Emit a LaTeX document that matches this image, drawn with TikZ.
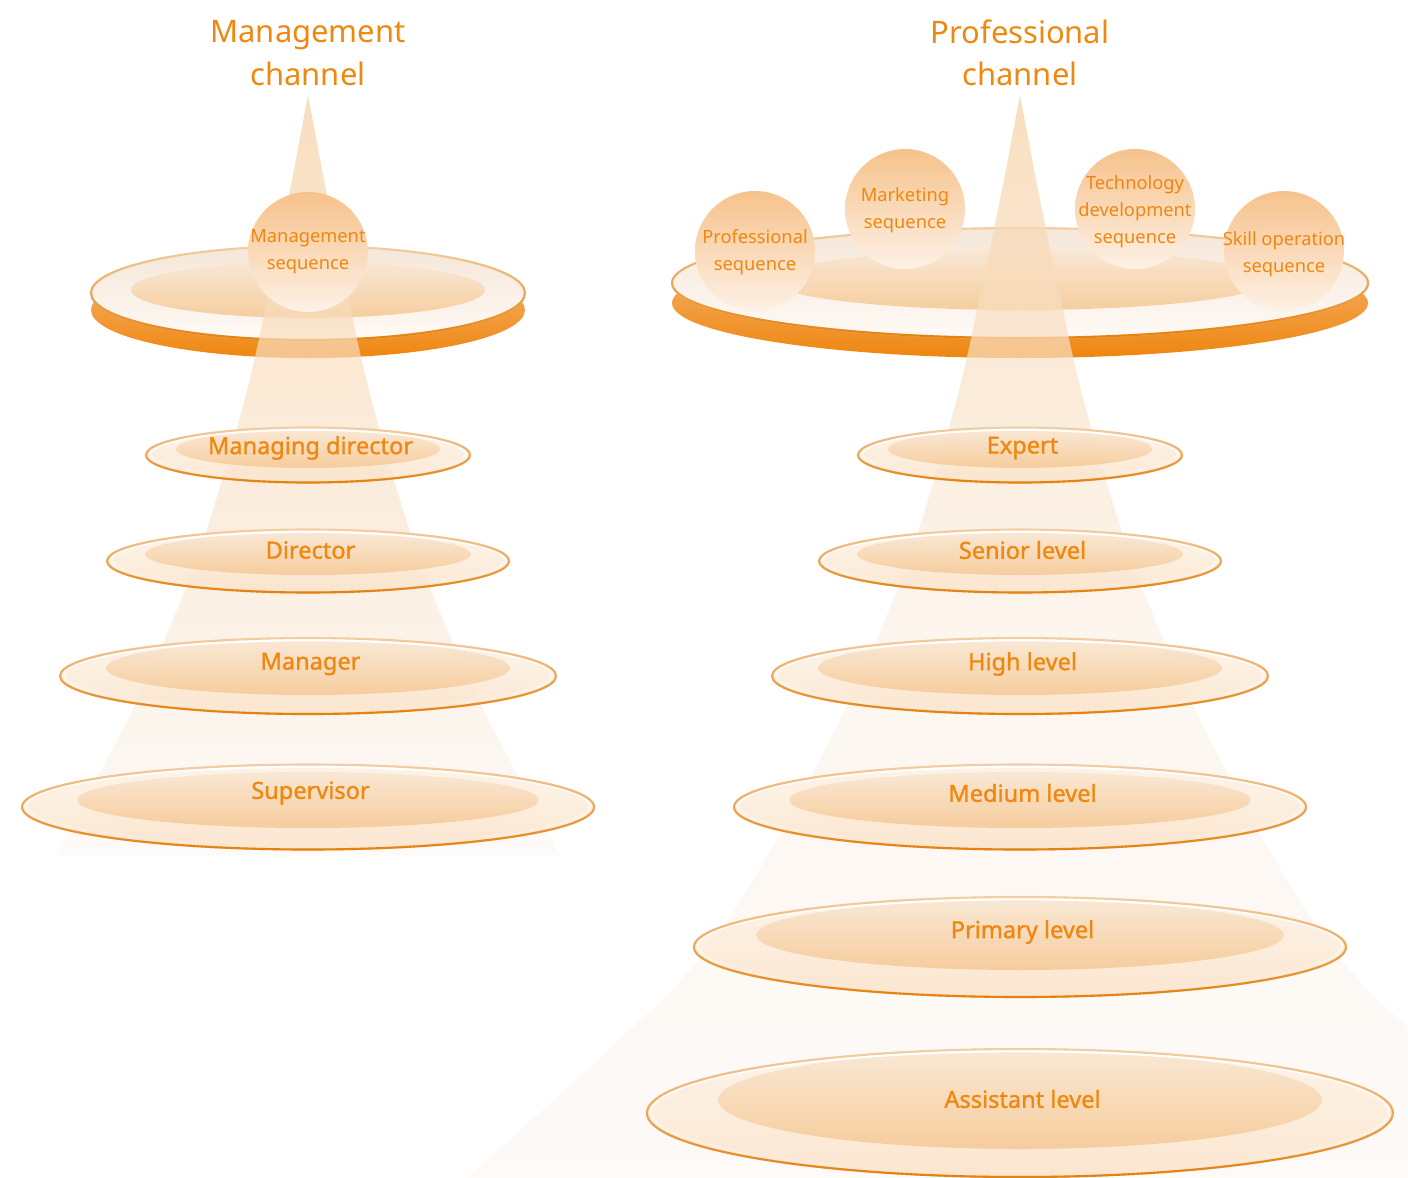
\documentclass[tikz,border=0pt]{standalone}
\usepackage{fontspec}
\setmainfont{Noto Sans}
\newfontfamily\tierfont[FakeBold=1.2]{Noto Sans}
\usetikzlibrary{fadings}
\definecolor{txtorange}{HTML}{F0870E}
\definecolor{edgepale}{HTML}{F2CFA6}
\definecolor{edgedeep}{HTML}{E5800C}
\definecolor{ringtop}{HTML}{FDF3E8}
\definecolor{ringbot}{HTML}{FBE3C9}
\definecolor{coretop}{HTML}{F9E7D3}
\definecolor{corebot}{HTML}{F6CA97}
\definecolor{beamtop}{HTML}{F7D1A5}
\definecolor{beammid}{HTML}{FBEDDF}
\definecolor{beamfar}{HTML}{FCF3EA}
\definecolor{beambot}{HTML}{FCF8F5}
\definecolor{basetop}{HTML}{F6B673}
\definecolor{basebot}{HTML}{EE8610}
\definecolor{disctop}{HTML}{F5E7D8}
\definecolor{discbot}{HTML}{FFFAF6}
\definecolor{balltop}{HTML}{F6C28B}
\definecolor{ballbot}{HTML}{FDF1E6}
\tikzset{
  title/.style={text=txtorange, align=center, font=\fontsize{8.8}{12}\selectfont},
  tier/.style={text=txtorange, font=\tierfont\fontsize{6.7}{8}\selectfont},
  seqtxt/.style={text=txtorange, align=center, font=\fontsize{5.2}{7.7}\selectfont},
  beamshade/.style={top color=beamtop, middle color=beammid, bottom color=beambot, fill opacity=0.7},
  ringfill/.style={top color=ringtop, bottom color=ringbot, fill opacity=0.85},
  corefill/.style={top color=coretop, bottom color=corebot, fill opacity=0.9},
  paleedge/.style={draw=edgepale, line width=0.6pt},
  deepedge/.style={draw=edgedeep, line width=0.6pt, path fading=north},
  shine/.style={draw=white, line width=0.8pt, path fading=south},
  basefill/.style={top color=basetop, bottom color=basebot},
  discfill/.style={top color=disctop, bottom color=discbot},
  ball/.style={top color=balltop, bottom color=ballbot}
}
\begin{document}
\begin{tikzpicture}[x=0.01cm, y=-0.01cm]
  \useasboundingbox (0,0) rectangle (1408,1178);
  \clip (0,0) rectangle (1408,1178);

  % channel titles
  \node[title] (mgt) at (308,53) {Management\\channel};
  \node[title] (pro) at (1020,53) {Professional\\channel};

  % plates
  \shade[basefill] (308,310) ellipse [x radius=217, y radius=48];
  \shade[discfill] (308,293) ellipse [x radius=217, y radius=47];
  \shade[corefill] (308,290) ellipse [x radius=177, y radius=28];
  \draw[paleedge] (308,293) ellipse [x radius=217, y radius=47];
  \draw[deepedge] (308,293) ellipse [x radius=217, y radius=47];
  \shade[basefill] (1020,303) ellipse [x radius=348, y radius=55];
  \shade[discfill] (1020,283) ellipse [x radius=348, y radius=55];
  \shade[corefill] (1020,280) ellipse [x radius=250, y radius=30];
  \draw[paleedge] (1020,283) ellipse [x radius=348, y radius=55];
  \draw[deepedge] (1020,283) ellipse [x radius=348, y radius=55];

  % light beams
  \shade[beamshade] (308,95) -- plot[smooth] coordinates {(324,180) (364,370) (400,500) (431,590) (481,705) (560,855)}
    -- plot[smooth] coordinates {(56,855) (135,705) (185,590) (216,500) (252,370) (292,180)} -- cycle;
  \shade[beamshade, middle color=beamfar] (1020,95) -- plot[smooth] coordinates {(1036,180) (1076,370) (1112,500) (1143,590) (1193,705) (1272,855) (1359,980) (1573,1178) (1620,1215)}
    -- plot[smooth] coordinates {(420,1215) (467,1178) (681,980) (768,855) (847,705) (897,590) (928,500) (964,370) (1004,180)} -- cycle;

  % tiers
  \foreach \cx/\cy/\rx/\ry/\iy/\irx/\iry/\ty/\nm/\lbl in {
      308/455/162/27.5/449/132/19/448/md/Managing director,
      308/561/201/31.5/554/163/21/550/dir/Director,
      308/676/248/38/668/202/27/664/mgr/Manager,
      308/807/286/42.5/800/231/28/793/sup/Supervisor,
      1020/455/162/27.5/449/132/19/448/exp/Expert,
      1020/561/201/31.5/554/163/21/550/sen/Senior level,
      1020/676/248/38/668/202/27/664/hig/High level,
      1020/807/286/42.5/800/231/28/793/med/Medium level,
      1020/947/326/50/935/264/35/932/pri/Primary level,
      1020/1113/373/64/1100/302/49/1099/ast/Assistant level} {
    \shade[ringfill] (\cx,\cy) ellipse [x radius=\rx, y radius=\ry];
    \shade[corefill] (\cx,\iy) ellipse [x radius=\irx, y radius=\iry];
    \draw[shine] (\cx,\cy-1) ellipse [x radius=\rx-4, y radius=\ry-3];
    \draw[paleedge] (\cx,\cy) ellipse [x radius=\rx, y radius=\ry];
    \draw[deepedge] (\cx,\cy) ellipse [x radius=\rx, y radius=\ry];
    \node[tier] (\nm) at (\cx+2.5,\ty) {\lbl};
  }

  % sequences
  \shade[ball] (308,252) circle [radius=60];
  \node[seqtxt] (mseq) at (308,252) {Management\\sequence};
  \shade[ball] (755,251) circle [radius=60];
  \node[seqtxt] (pseq) at (755,252) {Professional\\sequence};
  \shade[ball] (905,209) circle [radius=60];
  \node[seqtxt] (kseq) at (905,210) {Marketing\\sequence};
  \shade[ball] (1135,209) circle [radius=60];
  \node[seqtxt] (tseq) at (1135,212) {Technology\\development\\sequence};
  \shade[ball] (1284,251) circle [radius=60];
  \node[seqtxt] (sseq) at (1284,254) {Skill operation\\sequence};
\end{tikzpicture}
\end{document}
